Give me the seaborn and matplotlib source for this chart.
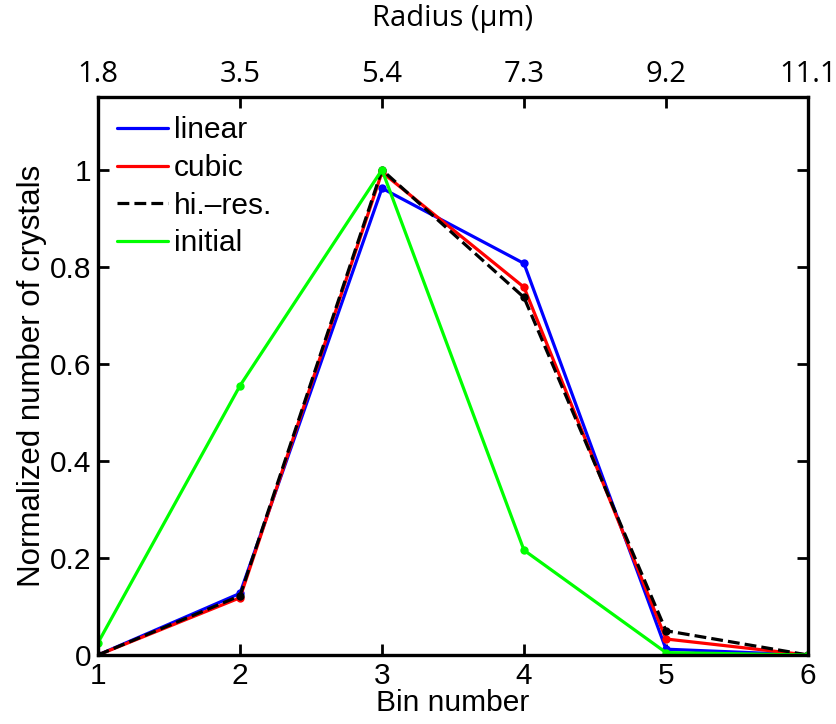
import pandas as pd
import seaborn as sns
import matplotlib.pyplot as plt

bins = [1, 2, 3, 4, 5, 6]
radius_labels = ["1.8", "3.5", "5.4", "7.3", "9.2", "11.1"]

linear = [0.0, 0.127, 0.962, 0.807, 0.012, 0.0]
cubic = [0.0, 0.118, 0.995, 0.758, 0.033, 0.0]
hires = [0.0, 0.122, 1.0, 0.737, 0.050, 0.0]
initial = [0.025, 0.555, 1.0, 0.216, 0.005, 0.0]

series = {"linear": linear, "cubic": cubic, "hi.\u2013res.": hires, "initial": initial}
colors = {"linear": "#0000ff", "cubic": "#ff0000", "hi.\u2013res.": "black", "initial": "#00ff00"}
styles = {"linear": "-", "cubic": "-", "hi.\u2013res.": "--", "initial": "-"}

sns.set_style("ticks", {"axes.edgecolor": "black", "xtick.color": "black",
                        "ytick.color": "black", "text.color": "black",
                        "axes.labelcolor": "black"})
plt.rcParams["font.family"] = ["Liberation Sans", "DejaVu Sans"]

fig = plt.figure(figsize=(8.36, 7.24), dpi=100)
ax = fig.add_axes([0.1172, 0.0953, 0.8493, 0.7707])

for name, vals in series.items():
    df = pd.DataFrame({"bin": bins, "val": vals})
    sns.lineplot(data=df, x="bin", y="val", ax=ax, color=colors[name],
                 linestyle=styles[name], linewidth=2.3, marker="o",
                 markersize=6, markeredgewidth=0, label=name, errorbar=None)

ax.set_xlim(1, 6)
ax.set_ylim(0, 1.15)
ax.set_xticks(bins)
ax.set_yticks([0, 0.2, 0.4, 0.6, 0.8, 1])
ax.set_yticklabels(["0", "0.2", "0.4", "0.6", "0.8", "1"])
ax.set_xlabel("Bin number", fontsize=21.5, labelpad=-1)
ax.set_ylabel("Normalized number of crystals", fontsize=22.5, labelpad=2)
ax.tick_params(direction="in", labelsize=21.5, width=2, length=8, right=True, pad=5)
for s in ax.spines.values():
    s.set_linewidth(2.4)

ax2 = ax.twiny()
ax2.set_xlim(1, 6)
ax2.set_xticks(bins)
ax2.set_xticklabels(radius_labels, family="Open Sans")
ax2.set_xlabel("Radius (\u03bcm)", fontsize=21, family="Open Sans", labelpad=24)
ax2.tick_params(direction="in", labelsize=21, width=2, length=8, pad=6)

leg = ax.legend(loc="upper left", frameon=False, fontsize=21.5, handlelength=1.7,
                handletextpad=0.2, labelspacing=0.32, borderaxespad=0.35,
                borderpad=0.3)
for h in leg.get_lines():
    h.set_marker("")

fig.savefig("out.png", dpi=100)
